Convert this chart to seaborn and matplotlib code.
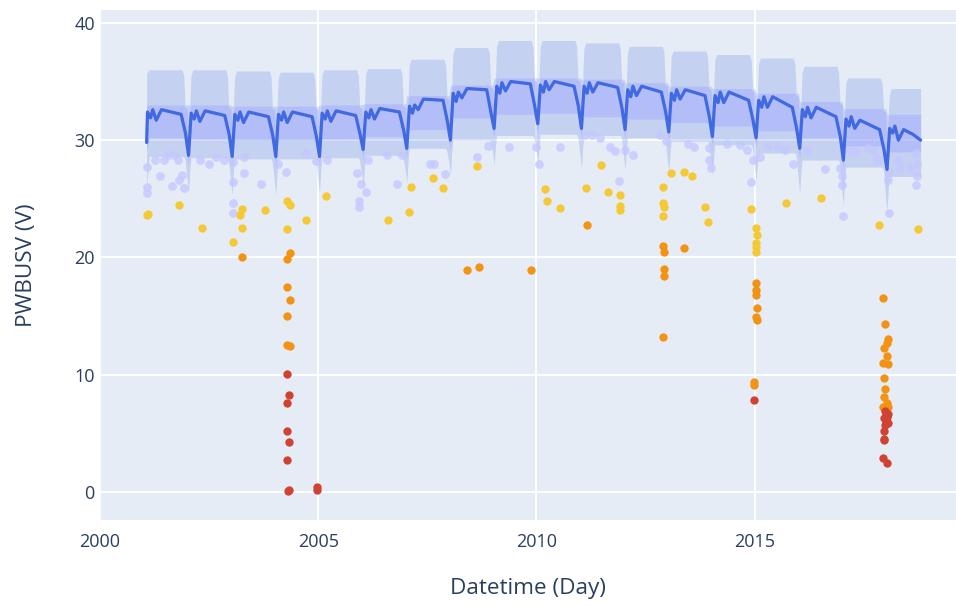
import matplotlib
matplotlib.use("Agg")
import matplotlib.pyplot as plt
import seaborn as sns
import pandas as pd

# ---------------- data ----------------
years = list(range(2001, 2019))
line_offsets = [0.03, 0.09, 0.16, 0.21, 0.29, 0.41, 0.86, 0.96]
line_values = [
    [29.8, 32.4, 31.9, 32.6, 31.7, 32.6, 32.2, 30.6],  # 2001
    [28.7, 32.3, 31.8, 32.5, 31.6, 32.5, 32.1, 30.5],  # 2002
    [28.6, 32.2, 31.7, 32.4, 31.5, 32.4, 32.0, 30.4],  # 2003
    [28.6, 32.2, 31.7, 32.4, 31.5, 32.4, 32.0, 30.3],  # 2004
    [28.6, 32.3, 31.8, 32.5, 31.6, 32.5, 32.1, 30.5],  # 2005
    [29.2, 32.4, 31.9, 32.6, 31.8, 32.7, 32.4, 30.8],  # 2006
    [29.3, 32.9, 32.3, 33.0, 32.6, 33.5, 33.4, 31.6],  # 2007
    [30.0, 34.0, 33.3, 34.1, 33.6, 34.4, 34.3, 32.3],  # 2008
    [31.0, 34.6, 34.0, 34.9, 34.2, 35.0, 34.8, 32.9],  # 2009
    [31.4, 34.7, 34.1, 35.0, 34.3, 35.0, 34.6, 32.9],  # 2010
    [31.0, 34.6, 34.0, 34.9, 34.1, 34.9, 34.5, 32.7],  # 2011
    [30.9, 34.3, 33.7, 34.6, 33.8, 34.6, 34.1, 32.4],  # 2012
    [30.7, 34.0, 33.4, 34.3, 33.5, 34.3, 33.8, 32.0],  # 2013
    [30.3, 33.8, 33.2, 34.1, 33.2, 34.1, 33.4, 31.7],  # 2014
    [30.2, 33.4, 32.8, 33.7, 32.8, 33.7, 32.8, 31.0],  # 2015
    [29.3, 32.6, 32.0, 32.8, 31.9, 32.8, 32.0, 30.3],  # 2016
    [28.3, 31.8, 31.2, 32.0, 31.0, 31.7, 30.9, 29.2],  # 2017
    [27.5, 31.0, 30.6, 31.2, 30.0, 30.9, 30.5, 30.0],  # 2018
]
line_start = 2001.07
line_end_offsets = [0.62, 0.80]

outer_top = [36.0, 36.0, 35.9, 35.8, 36.0, 36.1, 36.9, 37.9, 38.5,
             38.5, 38.3, 38.0, 37.6, 37.3, 37.0, 36.3, 35.3, 34.4]
outer_bot = [28.6, 28.5, 28.4, 28.4, 28.5, 28.7, 29.3, 30.0, 30.4,
             30.5, 30.4, 30.2, 29.9, 29.6, 28.9, 28.3, 27.7, 26.9]
outer_spike = [26.0, 25.5, 25.3, 25.3, 25.5, 26.0, 26.3, 27.0, 27.9,
               28.0, 27.6, 27.5, 27.3, 27.0, 26.5, 25.5, 24.5, 24.0]
inner_top = [33.0, 33.0, 32.9, 32.9, 33.0, 33.1, 33.8, 34.7, 35.3,
             35.3, 35.2, 34.9, 34.6, 34.4, 34.0, 33.3, 32.7, 32.2]
inner_bot = [30.2, 30.1, 30.0, 30.0, 30.1, 30.3, 30.9, 31.9, 32.2,
             32.3, 32.0, 31.8, 31.5, 31.2, 30.8, 30.2, 29.5, 29.0]

lavender_pts = [
    (2001.09, 27.7), (2001.09, 26.0), (2001.09, 25.5), (2001.26, 28.3), (2001.37, 26.9),
    (2001.47, 28.3), (2001.56, 28.7), (2001.69, 28.7), (2001.64, 26.1), (2001.81, 26.6),
    (2001.87, 27.0), (2001.93, 25.9), (2001.78, 28.3), (2002.29, 28.3), (2002.49, 28.0),
    (2002.65, 28.6), (2002.84, 28.3), (2003.04, 28.1), (2003.04, 26.4), (2003.05, 24.6),
    (2003.05, 23.8), (2003.30, 28.6), (2003.29, 27.2), (2003.70, 26.3), (2004.07, 28.0),
    (2004.27, 27.3), (2004.71, 28.9), (2004.96, 28.2), (2005.21, 28.3), (2005.90, 27.2),
    (2005.97, 26.3), (2005.94, 24.8), (2005.93, 24.3), (2006.09, 25.6), (2006.14, 28.3),
    (2006.57, 28.7), (2006.81, 26.3), (2006.93, 28.7), (2007.55, 28.0), (2007.66, 28.0),
    (2007.90, 27.1), (2008.64, 28.6), (2008.88, 29.5), (2009.36, 29.4), (2010.05, 28.0),
    (2010.00, 29.4), (2010.55, 29.45), (2011.12, 30.4), (2011.27, 30.4), (2011.45, 30.2),
    (2011.69, 29.45), (2011.81, 29.1), (2012.03, 29.2), (2012.20, 28.7), (2011.90, 26.5),
    (2012.83, 30.4), (2012.97, 29.9), (2013.46, 29.7), (2013.60, 29.45), (2013.96, 29.3),
    (2013.96, 28.3), (2014.00, 27.6), (2014.36, 29.7), (2014.66, 29.6), (2014.82, 29.2),
    (2014.91, 26.4), (2014.95, 28.3), (2015.12, 28.6), (2015.30, 29.5), (2015.54, 29.5),
    (2015.69, 29.2), (2015.88, 28.0), (2016.19, 29.2), (2016.61, 27.5), (2016.95, 27.6),
    (2016.99, 26.9), (2016.99, 26.2), (2017.03, 23.5), (2017.16, 29.2), (2017.32, 29.0),
    (2017.60, 29.3), (2017.71, 29.2), (2017.81, 28.6), (2017.83, 28.2), (2018.07, 27.3),
    (2018.06, 26.6), (2018.07, 23.8), (2018.29, 28.3), (2018.33, 27.7), (2018.55, 27.7),
    (2018.69, 28.9), (2018.71, 28.0), (2018.71, 26.9), (2018.69, 26.2),
]
yellow_pts = [
    (2001.08, 23.6), (2001.10, 23.7), (2001.81, 24.5), (2002.33, 22.5), (2003.05, 21.3),
    (2003.20, 23.65), (2003.25, 24.1), (2003.26, 22.5), (2003.79, 24.0), (2004.28, 24.8),
    (2004.36, 24.5), (2004.28, 22.4), (2004.73, 23.2), (2005.19, 25.2), (2006.61, 23.2),
    (2007.07, 23.9), (2007.12, 26.0), (2007.64, 26.8), (2007.85, 25.9), (2008.63, 27.8),
    (2010.19, 25.8), (2010.25, 24.8), (2010.55, 24.2), (2011.13, 25.9), (2011.47, 27.9),
    (2011.63, 25.6), (2011.91, 25.3), (2011.91, 24.4), (2011.91, 24.0), (2012.90, 26.0),
    (2012.90, 24.6), (2012.92, 24.3), (2012.90, 23.5), (2013.09, 27.2), (2013.38, 27.3),
    (2013.56, 26.9), (2013.87, 24.3), (2013.94, 23.0), (2014.92, 24.1), (2015.03, 22.5),
    (2015.06, 21.9), (2015.04, 21.2), (2015.04, 20.9), (2015.04, 20.5), (2015.71, 24.65),
    (2016.51, 25.05), (2017.85, 22.8), (2018.74, 22.4),
]
orange_pts = [
    (2003.26, 20.0), (2004.36, 20.4), (2004.28, 19.9), (2004.28, 17.45), (2004.36, 16.4),
    (2004.28, 15.0), (2004.28, 12.5), (2004.36, 12.4), (2008.40, 18.9), (2008.69, 19.2),
    (2009.88, 18.9), (2011.16, 22.75), (2012.90, 21.0), (2012.92, 20.45), (2013.38, 20.8),
    (2012.92, 19.0), (2012.92, 18.4), (2012.90, 13.2), (2015.03, 17.85), (2015.04, 17.2),
    (2015.03, 16.75), (2015.06, 15.7), (2015.03, 14.9), (2015.05, 14.7), (2014.99, 9.4),
    (2014.99, 9.1), (2017.93, 16.5), (2017.99, 14.3), (2018.06, 13.05), (2018.04, 12.7),
    (2017.97, 12.25), (2018.03, 11.6), (2017.94, 10.95), (2018.06, 10.9), (2017.95, 9.7),
    (2017.99, 8.8), (2017.97, 8.1), (2018.02, 7.6), (2017.94, 7.2), (2018.06, 7.2),
]
red_pts = [
    (2004.29, 10.06), (2004.34, 8.3), (2004.29, 7.6), (2004.29, 5.2), (2004.34, 4.26),
    (2004.29, 2.7), (2004.30, 0.1), (2004.33, 0.15), (2004.98, 0.45), (2004.97, 0.2),
    (2014.99, 7.8), (2018.00, 6.7), (2018.06, 6.6), (2017.95, 6.3), (2018.00, 6.0),
    (2017.98, 5.7), (2017.97, 5.2), (2017.95, 4.5), (2017.96, 4.4), (2017.93, 2.9),
    (2018.02, 2.45), (2018.03, 6.4), (2017.99, 6.9), (2018.05, 5.9),
]

x_ticks = [2000, 2005, 2010, 2015]
y_ticks = [0, 10, 20, 30, 40]
x_title = "Datetime (Day)"
y_title = "PWBUSV (V)"

# ---------------- build tables ----------------
line_t, line_v = [], []
for k, Y in enumerate(years):
    offs = list(line_offsets)
    if k == 0:
        offs[0] = line_start - Y
    if k == len(years) - 1:
        offs[-2:] = line_end_offsets
    for o, v in zip(offs, line_values[k]):
        line_t.append(Y + o)
        line_v.append(v)
line_df = pd.DataFrame({"t": line_t, "v": line_v})

bt, ohi, olo, ihi, ilo = [], [], [], [], []
def knot(t, a, b, c, d):
    bt.append(t); ohi.append(a); olo.append(b); ihi.append(c); ilo.append(d)

for k, Y in enumerate(years):
    dip = line_values[k][0]
    if k == 0:
        knot(line_start, outer_top[k] - 0.3, outer_spike[k], inner_top[k], inner_bot[k] - 1.0)
    else:
        knot(Y + 0.00, inner_top[k - 1], outer_spike[k] + 1.0, inner_top[k - 1] - 0.3, dip - 0.3)
        knot(Y + 0.03, inner_top[k], outer_spike[k], dip + 1.8, dip - 0.8)
        knot(Y + 0.06, inner_top[k], outer_bot[k] - 1.0, inner_top[k] - 0.3, inner_bot[k] - 0.6)
        knot(Y + 0.085, outer_top[k] - 0.5, outer_bot[k], inner_top[k], inner_bot[k])
    knot(Y + 0.13, outer_top[k], outer_bot[k], inner_top[k], inner_bot[k])
    end = 0.80 if k == len(years) - 1 else 0.88
    knot(Y + end, outer_top[k], outer_bot[k], inner_top[k], inner_bot[k])
    if k < len(years) - 1:
        knot(Y + 0.92, outer_top[k] - 0.5, outer_bot[k], inner_top[k], inner_bot[k])
        knot(Y + 0.95, inner_top[k], outer_bot[k] - 0.3, inner_top[k] - 0.2, inner_bot[k] - 0.2)

lav = pd.DataFrame(lavender_pts, columns=["t", "v"])
yel = pd.DataFrame(yellow_pts, columns=["t", "v"])
ora = pd.DataFrame(orange_pts, columns=["t", "v"])
red = pd.DataFrame(red_pts, columns=["t", "v"])

# ---------------- plot ----------------
sns.set_theme(style="darkgrid", rc={
    "axes.facecolor": "#E5ECF6",
    "grid.color": "white",
    "grid.linewidth": 1.3,
    "axes.edgecolor": "#E5ECF6",
})
plt.rcParams["font.family"] = ["Open Sans", "DejaVu Sans"]

fig = plt.figure(figsize=(9.56, 6.06), dpi=100)
ax = fig.add_axes([0.1036, 0.1419, 0.8964, 0.8416])

ax.fill_between(bt, olo, ohi, color="#4169E1", alpha=0.2, linewidth=0, zorder=2)
ax.fill_between(bt, ilo, ihi, color="#9FA6FF", alpha=0.45, linewidth=0, zorder=3)

sns.scatterplot(data=lav, x="t", y="v", ax=ax, color="#C5C8FF", alpha=0.8,
                s=40, linewidth=0, zorder=4, legend=False)
sns.lineplot(data=line_df, x="t", y="v", ax=ax, color="#4169E1", linewidth=2.3,
             zorder=5, legend=False, estimator=None, sort=False)
sns.scatterplot(data=yel, x="t", y="v", ax=ax, color="#F5C935", s=36,
                linewidth=0, zorder=6, legend=False)
sns.scatterplot(data=ora, x="t", y="v", ax=ax, color="#F39313", s=36,
                linewidth=0, zorder=6, legend=False)
sns.scatterplot(data=red, x="t", y="v", ax=ax, color="#D04232", s=36,
                linewidth=0, zorder=7, legend=False)

ax.set_xlim(1999.98, 2019.61)
ax.set_ylim(-2.4, 41.1)
ax.set_xticks(x_ticks)
ax.set_xticklabels([str(x) for x in x_ticks])
ax.set_yticks(y_ticks)
ax.set_yticklabels([str(y) for y in y_ticks])
ax.tick_params(axis="both", labelsize=13, labelcolor="#2a3f5f", length=0)
ax.tick_params(axis="x", pad=9)
ax.tick_params(axis="y", pad=3)
ax.set_xlabel(x_title, fontsize=16.2, color="#2a3f5f", labelpad=20)
ax.set_ylabel(y_title, fontsize=16.2, color="#2a3f5f", labelpad=27)
for s in ax.spines.values():
    s.set_visible(False)
ax.grid(True, zorder=0)
ax.set_axisbelow(True)

fig.savefig("out.png", dpi=100)
